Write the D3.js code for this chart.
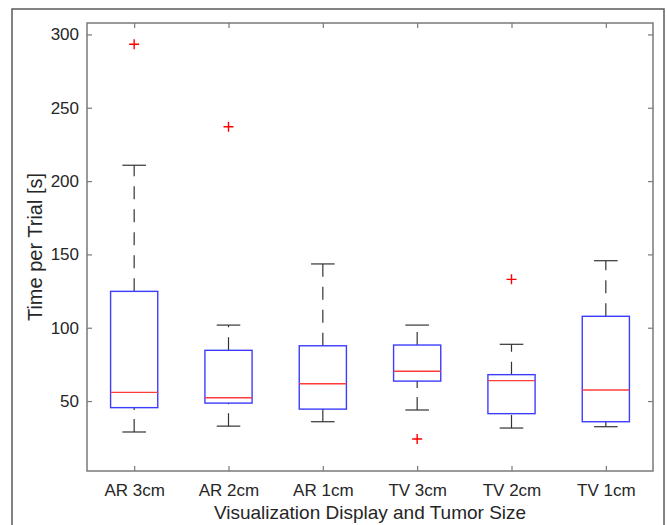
<!DOCTYPE html>
<html>
<head>
<meta charset="utf-8">
<script src="https://cdn.jsdelivr.net/npm/d3@7"></script>
<style>
  body { margin: 0; background: #fff; }
  svg { display: block; font-family: "Liberation Sans", Arial, sans-serif; }
</style>
</head>
<body>
<script>
'use strict'
// box plot stats (seconds)
const categories = ["AR 3cm", "AR 2cm", "AR 1cm", "TV 3cm", "TV 2cm", "TV 1cm"];
const lowerWhisker = [28.9, 32.9, 35.9, 43.9, 31.6, 32.5];
const q1 = [45.5, 48.6, 44.5, 63.6, 41.4, 35.9];
const medians = [55.9, 52.3, 61.8, 70.3, 63.9, 57.5];
const q3 = [124.8, 84.6, 87.7, 88.2, 68.0, 107.8];
const upperWhisker = [210.8, 101.8, 143.5, 101.8, 88.7, 145.7];
const outliers = [[293.3], [237.1], [], [24.1], [133.0], []];
const yTicks = [50, 100, 150, 200, 250, 300];

const width = 667, height = 525;
const plotLeft = 87, plotRight = 653, plotTop = 23, plotBottom = 471;

const svg = d3.select("body").append("svg")
    .attr("width", width)
    .attr("height", height);

// outer figure frame
svg.append("rect")
    .attr("x", 12).attr("y", 9)
    .attr("width", 652).attr("height", 600)
    .attr("fill", "none")
    .attr("stroke", "#5a5a5a")
    .attr("stroke-width", 1.5);

const x = d3.scaleLinear().domain([0.5, 6.5]).range([plotLeft, plotRight]);
const y = d3.scaleLinear().domain([2.3, 307.8]).range([plotBottom, plotTop]);

const data = categories.map((c, i) => ({
    name: c, pos: i + 1,
    lo: lowerWhisker[i], q1: q1[i], med: medians[i], q3: q3[i], hi: upperWhisker[i],
    out: outliers[i]
}));
const xTicks = data.map(d => d.pos);

function styleAxis(g, labels) {
    g.select(".domain").remove();
    g.selectAll(".tick line").attr("stroke", "#7a7a7a").attr("stroke-width", 1.2);
    g.selectAll(".tick text")
        .attr("fill", labels ? "#262626" : "none")
        .style("font-size", "17px");
}

svg.append("g")
    .attr("transform", `translate(0,${plotBottom})`)
    .call(d3.axisBottom(x).tickValues(xTicks).tickFormat((d, i) => categories[i])
        .tickSizeInner(-5).tickSizeOuter(0).tickPadding(13))
    .call(g => styleAxis(g, true));

svg.append("g")
    .attr("transform", `translate(0,${plotTop})`)
    .call(d3.axisTop(x).tickValues(xTicks).tickFormat("")
        .tickSizeInner(-5).tickSizeOuter(0))
    .call(g => styleAxis(g, false));

svg.append("g")
    .attr("transform", `translate(${plotLeft},0)`)
    .call(d3.axisLeft(y).tickValues(yTicks)
        .tickSizeInner(-5).tickSizeOuter(0).tickPadding(8))
    .call(g => styleAxis(g, true));

svg.append("g")
    .attr("transform", `translate(${plotRight},0)`)
    .call(d3.axisRight(y).tickValues(yTicks).tickFormat("")
        .tickSizeInner(-5).tickSizeOuter(0))
    .call(g => styleAxis(g, false));

// plot box
svg.append("rect")
    .attr("x", plotLeft).attr("y", plotTop)
    .attr("width", plotRight - plotLeft).attr("height", plotBottom - plotTop)
    .attr("fill", "none")
    .attr("stroke", "#7a7a7a")
    .attr("stroke-width", 1.5);

const step = x(2) - x(1);
const boxW = step * 0.5;
const capW = step * 0.25;

const groups = svg.selectAll("g.box")
    .data(data)
    .enter()
    .append("g")
    .attr("class", "box");

// whiskers (dashed): upper drawn from the box up, lower from the cap up
groups.append("line")
    .attr("x1", d => x(d.pos)).attr("x2", d => x(d.pos))
    .attr("y1", d => y(d.q3)).attr("y2", d => y(d.hi))
    .attr("stroke", "#333").attr("stroke-width", 1.2)
    .attr("stroke-dasharray", "13,10");
groups.append("line")
    .attr("x1", d => x(d.pos)).attr("x2", d => x(d.pos))
    .attr("y1", d => y(d.lo)).attr("y2", d => y(d.q1))
    .attr("stroke", "#333").attr("stroke-width", 1.2)
    .attr("stroke-dasharray", "13,9");

// caps
groups.selectAll("line.cap")
    .data(d => [d.lo, d.hi].map(v => ({pos: d.pos, v: v})))
    .enter()
    .append("line")
    .attr("class", "cap")
    .attr("x1", d => x(d.pos) - capW / 2).attr("x2", d => x(d.pos) + capW / 2)
    .attr("y1", d => y(d.v)).attr("y2", d => y(d.v))
    .attr("stroke", "#333").attr("stroke-width", 1.2);

// boxes
groups.append("rect")
    .attr("x", d => x(d.pos) - boxW / 2)
    .attr("y", d => y(d.q3))
    .attr("width", boxW)
    .attr("height", d => y(d.q1) - y(d.q3))
    .attr("fill", "none")
    .attr("stroke", "#3c3cff")
    .attr("stroke-width", 1.4);

// medians
groups.append("line")
    .attr("x1", d => x(d.pos) - boxW / 2).attr("x2", d => x(d.pos) + boxW / 2)
    .attr("y1", d => y(d.med)).attr("y2", d => y(d.med))
    .attr("stroke", "#ff3c3c").attr("stroke-width", 1.4);

// outliers as red plus marks
groups.selectAll("path.out")
    .data(d => d.out.map(v => ({pos: d.pos, v: v})))
    .enter()
    .append("path")
    .attr("class", "out")
    .attr("transform", d => `translate(${x(d.pos)},${y(d.v)})`)
    .attr("d", "M-5,0H5M0,-5V5")
    .attr("stroke", "#ff0000")
    .attr("stroke-width", 1.4);

// axis titles
svg.append("text")
    .attr("x", (plotLeft + plotRight) / 2)
    .attr("y", 519)
    .attr("text-anchor", "middle")
    .attr("fill", "#262626")
    .style("font-size", "19px")
    .text("Visualization Display and Tumor Size");

svg.append("text")
    .attr("transform", `translate(42,${(plotTop + plotBottom) / 2}) rotate(-90)`)
    .attr("text-anchor", "middle")
    .attr("fill", "#262626")
    .style("font-size", "20px")
    .text("Time per Trial [s]");
</script>
</body>
</html>
